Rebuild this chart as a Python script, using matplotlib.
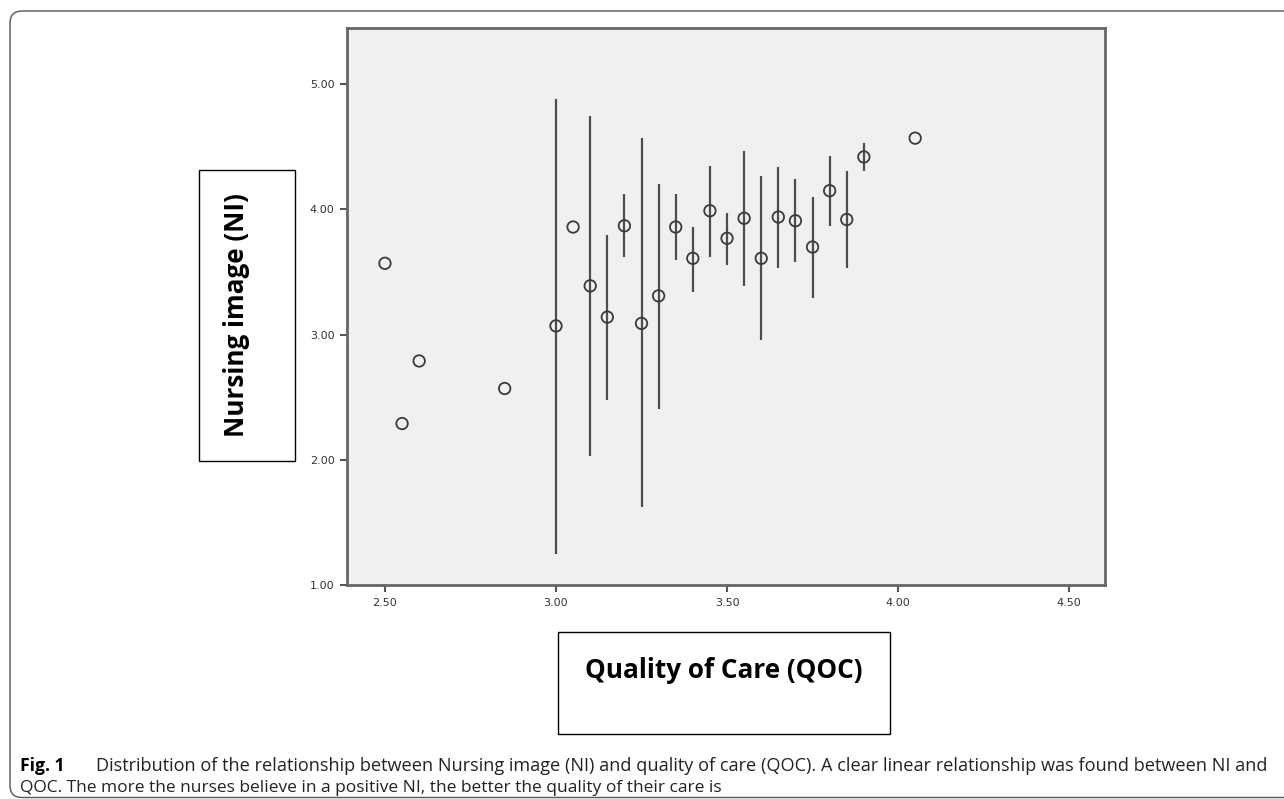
import numpy as np
import matplotlib.pyplot as plt
from matplotlib.patches import FancyBboxPatch, Rectangle

# Mean NI per QOC level, with the interval bounds (nan = single case, no bar)
qoc = [2.50, 2.55, 2.60, 2.85, 3.00, 3.05, 3.10, 3.15, 3.20, 3.25, 3.30, 3.35,
       3.40, 3.45, 3.50, 3.55, 3.60, 3.65, 3.70, 3.75, 3.80, 3.85, 3.90, 4.05]
ni_mean = [3.57, 2.29, 2.79, 2.57, 3.07, 3.86, 3.39, 3.14, 3.87, 3.09, 3.31, 3.86,
           3.61, 3.99, 3.77, 3.93, 3.61, 3.94, 3.91, 3.70, 4.15, 3.92, 4.42, 4.57]
ni_low = [np.nan, np.nan, np.nan, np.nan, 1.25, np.nan, 2.03, 2.48, 3.62, 1.62, 2.41, 3.60,
          3.34, 3.62, 3.56, 3.39, 2.96, 3.53, 3.58, 3.29, 3.87, 3.53, 4.31, np.nan]
ni_high = [np.nan, np.nan, np.nan, np.nan, 4.88, np.nan, 4.75, 3.80, 4.12, 4.57, 4.20, 4.12,
           3.86, 4.35, 3.97, 4.47, 4.27, 4.34, 4.24, 4.10, 4.43, 4.31, 4.53, np.nan]
x_ticks = [2.50, 3.00, 3.50, 4.00, 4.50]
y_ticks = [1.00, 2.00, 3.00, 4.00, 5.00]

W, H = 1284, 799
fig = plt.figure(figsize=(W / 100, H / 100), dpi=100)

# outer rounded frame of the figure panel (inches, so corners stay round)
frame = FancyBboxPatch((0.10, 0.015), 13.5, 7.865,
                       boxstyle="round,pad=0,rounding_size=0.12",
                       transform=fig.dpi_scale_trans, fill=False,
                       edgecolor="#555555", linewidth=1.0, clip_on=False)
fig.add_artist(frame)

ax = fig.add_axes([347 / W, 1 - 585 / H, (1105 - 347) / W, (585 - 28) / H])
ax.set_facecolor("#f0f0f0")

for xv, m, lo, hi in zip(qoc, ni_mean, ni_low, ni_high):
    if not np.isnan(lo):
        ax.vlines(xv, lo, hi, color="#4d4d4d", linewidth=1.6, zorder=2)
ax.scatter(qoc, ni_mean, s=68, facecolors="none", edgecolors="#3a3a3a",
           linewidths=1.3, zorder=3)

ax.set_xlim(2.389, 4.605)
ax.set_ylim(1.0, 5.45)
ax.set_xticks(x_ticks)
ax.set_yticks(y_ticks)
ax.set_xticklabels([f"{v:.2f}" for v in x_ticks])
ax.set_yticklabels([f"{v:.2f}" for v in y_ticks])
ax.tick_params(direction="out", length=5, width=1.5, color="#555555",
               labelsize=8, labelcolor="#333333", pad=4)
for lab in ax.get_xticklabels() + ax.get_yticklabels():
    lab.set_family(["Liberation Sans Narrow", "DejaVu Sans"])
for sp in ax.spines.values():
    sp.set_color("#666666")
    sp.set_linewidth(2.0)

# boxed axis labels
fig.add_artist(Rectangle((199 / W, 1 - 461 / H), 96 / W, 291 / H,
                         transform=fig.transFigure, fill=False,
                         edgecolor="black", linewidth=1.0))
fig.text(236 / W, 1 - 315 / H, "Nursing image (NI)", rotation=90,
         ha="center", va="center", fontsize=18.8, fontweight="bold",
         family="Open Sans")
fig.add_artist(Rectangle((558 / W, 1 - 734 / H), 332 / W, 102 / H,
                         transform=fig.transFigure, fill=False,
                         edgecolor="black", linewidth=1.0))
fig.text(724 / W, 1 - 678 / H, "Quality of Care (QOC)",
         ha="center", va="baseline", fontsize=18.8, fontweight="bold",
         family="Open Sans")

# caption
fig.text(20 / W, 1 - 771 / H, "Fig. 1", fontsize=12.6, fontweight="bold",
         family="Open Sans", va="baseline")
fig.text(1267 / W, 1 - 771 / H,
         "Distribution of the relationship between Nursing image (NI) and quality "
         "of care (QOC). A clear linear relationship was found between NI and",
         fontsize=13.1, family="Open Sans", va="baseline", ha="right",
         color="#222222")
fig.text(20 / W, 1 - 792 / H,
         "QOC. The more the nurses believe in a positive NI, the better the "
         "quality of their care is",
         fontsize=12.5, family="Open Sans", va="baseline", color="#222222")

fig.savefig("out.png", dpi=100)
